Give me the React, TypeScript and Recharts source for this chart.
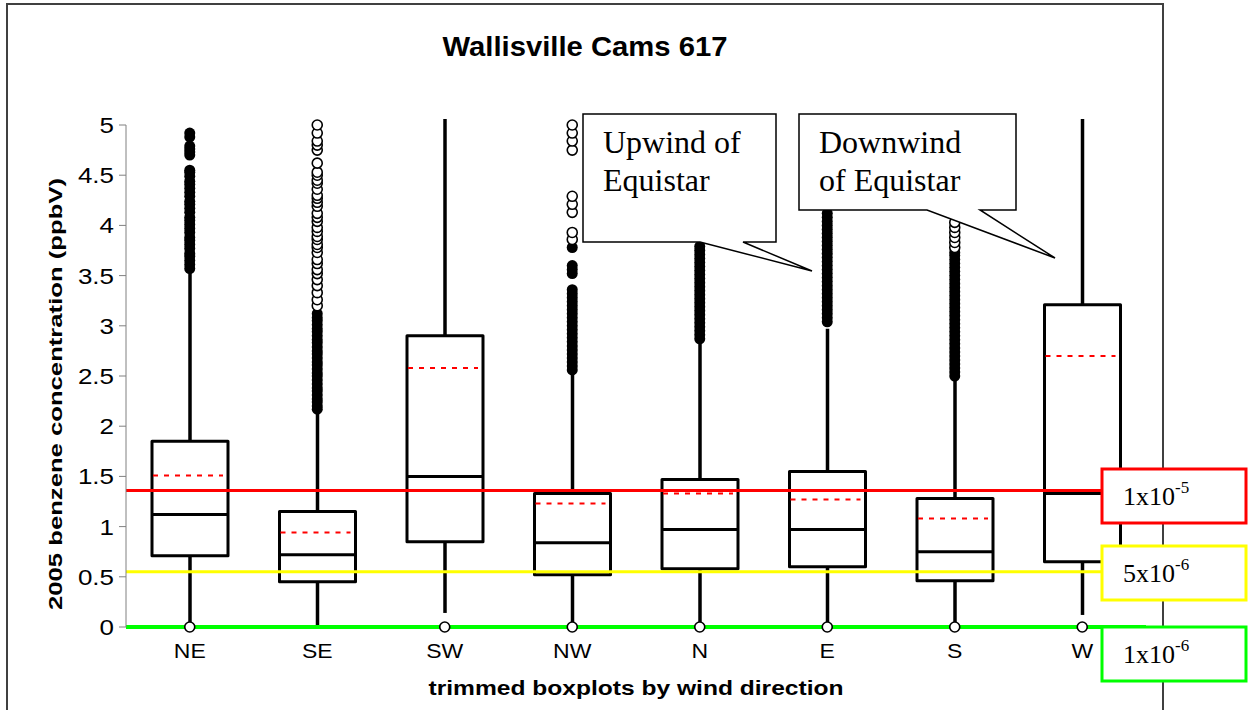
import { ComposedChart, Bar, Scatter, XAxis, YAxis, ReferenceLine } from "recharts";

const SANS = "'Liberation Sans', Arial, sans-serif";
const SERIF = "'Liberation Serif', 'Times New Roman', serif";

// wind directions, left to right
const DIRECTIONS = ["NE", "SE", "SW", "NW", "N", "E", "S", "W"];
const TICK_POS = [0, 1, 2, 3, 4, 5, 6, 7];
const Y_TICKS = [0, 0.5, 1, 1.5, 2, 2.5, 3, 3.5, 4, 4.5, 5];

// box statistics (ppbV)
const WHISKER_LOW = [0.04, 0, 0.14, 0.05, 0.05, 0.05, 0.05, 0.12];
const Q1 = [0.71, 0.45, 0.85, 0.52, 0.58, 0.6, 0.46, 0.65];
const MEDIAN = [1.12, 0.72, 1.5, 0.84, 0.97, 0.97, 0.75, 1.33];
const Q3 = [1.85, 1.15, 2.9, 1.33, 1.47, 1.55, 1.28, 3.21];
const MEAN = [1.51, 0.94, 2.58, 1.23, 1.33, 1.27, 1.08, 2.7];
const WHISKER_HIGH = [3.56, 2.16, 5.06, 2.54, 2.85, 2.97, 2.47, 5.06];

// outliers: filled markers and open markers, per direction
const FILLED_OUTLIERS = [
  [3.57, 3.61, 3.65, 3.69, 3.72, 3.77, 3.81, 3.85, 3.88, 3.93, 3.97, 4.01, 4.05, 4.08, 4.13, 4.17, 4.21, 4.24,
    4.29, 4.33, 4.37, 4.41, 4.44, 4.49, 4.53, 4.55, 4.7, 4.73, 4.76, 4.79, 4.88, 4.92],
  [2.17, 2.2, 2.24, 2.27, 2.31, 2.35, 2.38, 2.42, 2.46, 2.5, 2.53, 2.57, 2.61, 2.64, 2.68, 2.72, 2.75, 2.79,
    2.83, 2.86, 2.9, 2.94, 2.97, 3.01, 3.05, 3.08, 3.12],
  [],
  [2.56, 2.6, 2.64, 2.68, 2.72, 2.76, 2.8, 2.84, 2.88, 2.92, 2.96, 3.0, 3.04, 3.08, 3.12, 3.16, 3.2, 3.24,
    3.28, 3.32, 3.36, 3.52, 3.56, 3.6, 3.78],
  [2.87, 2.91, 2.95, 2.99, 3.03, 3.07, 3.11, 3.15, 3.19, 3.23, 3.27, 3.31, 3.35, 3.39, 3.43, 3.47, 3.51,
    3.55, 3.59, 3.63, 3.67, 3.71, 3.75, 3.79],
  [3.04, 3.08, 3.12, 3.16, 3.2, 3.24, 3.28, 3.32, 3.36, 3.4, 3.44, 3.48, 3.52, 3.56, 3.6, 3.64, 3.68, 3.72,
    3.76, 3.8, 3.84, 3.88, 3.92, 3.96, 4.0, 4.04, 4.08, 4.12],
  [2.5, 2.54, 2.58, 2.62, 2.66, 2.7, 2.74, 2.78, 2.82, 2.86, 2.9, 2.94, 2.98, 3.02, 3.06, 3.1, 3.14, 3.18,
    3.22, 3.26, 3.3, 3.34, 3.38, 3.42, 3.46, 3.5, 3.54, 3.58, 3.62, 3.66, 3.7, 3.73],
  [],
];
const OPEN_OUTLIERS = [
  [0],
  [3.2, 3.26, 3.33, 3.4, 3.46, 3.52, 3.56, 3.62, 3.66, 3.73, 3.78, 3.81, 3.86, 3.89, 3.94, 3.98, 4.04, 4.08,
    4.12, 4.19, 4.23, 4.27, 4.3, 4.36, 4.42, 4.45, 4.5, 4.53, 4.62, 4.75, 4.8, 4.84, 4.92, 5.0],
  [0],
  [0, 3.86, 3.93, 4.13, 4.21, 4.29, 4.75, 4.84, 4.92, 5.0],
  [0],
  [0],
  [0, 3.78, 3.83, 3.88, 3.93, 3.98, 4.03],
  [0],
];

// risk thresholds (ppbV)
const RISK_1E5 = 1.36;
const RISK_5E6 = 0.55;
const RISK_1E6 = 0;

const rows = DIRECTIONS.map((dir, i) => ({
  pos: i, dir, box: [Q1[i], Q3[i]],
  lo: WHISKER_LOW[i], med: MEDIAN[i], mean: MEAN[i], hi: WHISKER_HIGH[i],
}));
const filledPts = FILLED_OUTLIERS.flatMap((vals, i) => vals.map((v) => ({ pos: i, v })));
const openPts = OPEN_OUTLIERS.flatMap((vals, i) => vals.map((v) => ({ pos: i, v })));

// The bar is the Q1..Q3 range; whiskers/median/mean use the same pixels-per-unit.
function BoxShape(props: any) {
  const { x, y, width, height, payload } = props;
  const top = Math.min(y, y + height);
  const bottom = Math.max(y, y + height);
  const [q1, q3] = payload.box;
  const k = (bottom - top) / (q3 - q1);
  const toY = (v: number) => bottom - (v - q1) * k;
  const cx = x + width / 2;
  return (
    <g>
      <line x1={cx} x2={cx} y1={toY(payload.lo)} y2={bottom} stroke="#000" strokeWidth={3.5} />
      <line x1={cx} x2={cx} y1={toY(payload.hi)} y2={top} stroke="#000" strokeWidth={3.5} />
      <rect x={x} y={top} width={width} height={bottom - top} fill="none" stroke="#000" strokeWidth={3} strokeLinejoin="round" />
      <line x1={x} x2={x + width} y1={toY(payload.med)} y2={toY(payload.med)} stroke="#000" strokeWidth={3} />
      <line x1={x + 1} x2={x + width - 5} y1={toY(payload.mean)} y2={toY(payload.mean)} stroke="#ff0000" strokeWidth={2} strokeDasharray="5 6" />
    </g>
  );
}

const FilledDot = (p: any) => <circle cx={p.cx} cy={p.cy} r={5.5} fill="#000" />;
const OpenDot = (p: any) => <circle cx={p.cx} cy={p.cy} r={5} fill="#fff" stroke="#000" strokeWidth={1.6} />;

const XTick = ({ x, y, payload }: any) => (
  <g transform={`translate(${x},${y + 31})`}>
    <text textAnchor="middle" transform="scale(1.15,1)" fontSize={20} fontFamily={SANS} fill="#000">
      {DIRECTIONS[payload.value]}
    </text>
  </g>
);

const YTick = ({ x, y, payload }: any) => (
  <g transform={`translate(${x - 5},${y + 8})`}>
    <text textAnchor="end" transform="scale(1.18,1)" fontSize={22} fontFamily={SANS} fill="#000">
      {String(payload.value)}
    </text>
  </g>
);

function RiskBox({ y, color, lead, exp }: { y: number; color: string; lead: string; exp: string }) {
  return (
    <g>
      <rect x={1102} y={y} width={144} height={54} fill="#fff" stroke={color} strokeWidth={3} />
      <text x={1123} y={y + 36} fontSize={26} fontFamily={SERIF} fill="#000">
        {lead}
        <tspan fontSize={17} dy={-12}>{exp}</tspan>
      </text>
    </g>
  );
}

export default function App() {
  return (
    <div style={{ position: "absolute", left: 0, top: 0, width: 1250, height: 710, background: "#fff" }}>
      <ComposedChart width={1250} height={710} data={rows} margin={{ top: 125, right: 104, bottom: 43, left: 0 }}>
        <XAxis
          type="number" dataKey="pos" domain={[-0.5, 7.5]} ticks={TICK_POS} interval={0}
          tickLine={false} axisLine={false} tickSize={0} tickMargin={0} height={40} tick={<XTick />}
        />
        <YAxis
          type="number" domain={[0, 5]} ticks={Y_TICKS} interval={0} width={126}
          tickSize={7} tickMargin={0} tickLine={{ stroke: "#808080" }} axisLine={{ stroke: "#808080" }}
          tick={<YTick />}
        />
        <Bar dataKey="box" barSize={76} shape={<BoxShape />} isAnimationActive={false} />
        <Scatter data={filledPts} dataKey="v" shape={<FilledDot />} isAnimationActive={false} />
        <Scatter data={openPts} dataKey="v" shape={<OpenDot />} isAnimationActive={false} />
        <ReferenceLine y={RISK_1E5} stroke="#ff0000" strokeWidth={3} />
        <ReferenceLine y={RISK_5E6} stroke="#ffff00" strokeWidth={3} />
        <ReferenceLine y={RISK_1E6} stroke="#00ff00" strokeWidth={4} />
      </ComposedChart>

      <svg width={1250} height={710} style={{ position: "absolute", left: 0, top: 0, pointerEvents: "none" }}>
        <rect x={7} y={4} width={1156} height={720} fill="none" stroke="#404040" strokeWidth={2} />
        <text x={585} y={56} textAnchor="middle" fontSize={27} fontWeight="bold" fontFamily={SANS}
          textLength={285} lengthAdjust="spacingAndGlyphs">Wallisville Cams 617</text>
        <text x={636} y={695} textAnchor="middle" fontSize={20} fontWeight="bold" fontFamily={SANS}
          textLength={415} lengthAdjust="spacingAndGlyphs">trimmed boxplots by wind direction</text>
        <text transform="translate(62,394) rotate(-90)" textAnchor="middle" fontSize={19} fontWeight="bold"
          fontFamily={SANS} textLength={432} lengthAdjust="spacingAndGlyphs">2005 benzene concentration (ppbV)</text>

        <polygon points="583,114 776,114 776,242 743,242 812,271 700,242 583,242" fill="#fff" stroke="#000" strokeWidth={1.5} />
        <text x={603} y={153} fontSize={32} fontFamily={SERIF}>Upwind of</text>
        <text x={603} y={191} fontSize={32} fontFamily={SERIF}>Equistar</text>

        <polygon points="799,114 1016,114 1016,210 980,210 1055,258 927,210 799,210" fill="#fff" stroke="#000" strokeWidth={1.5} />
        <text x={819} y={153} fontSize={32} fontFamily={SERIF}>Downwind</text>
        <text x={819} y={191} fontSize={32} fontFamily={SERIF}>of Equistar</text>

        <RiskBox y={469} color="#ff0000" lead="1x10" exp="-5" />
        <RiskBox y={546} color="#ffff00" lead="5x10" exp="-6" />
        <RiskBox y={627} color="#00ff00" lead="1x10" exp="-6" />
      </svg>
    </div>
  );
}
